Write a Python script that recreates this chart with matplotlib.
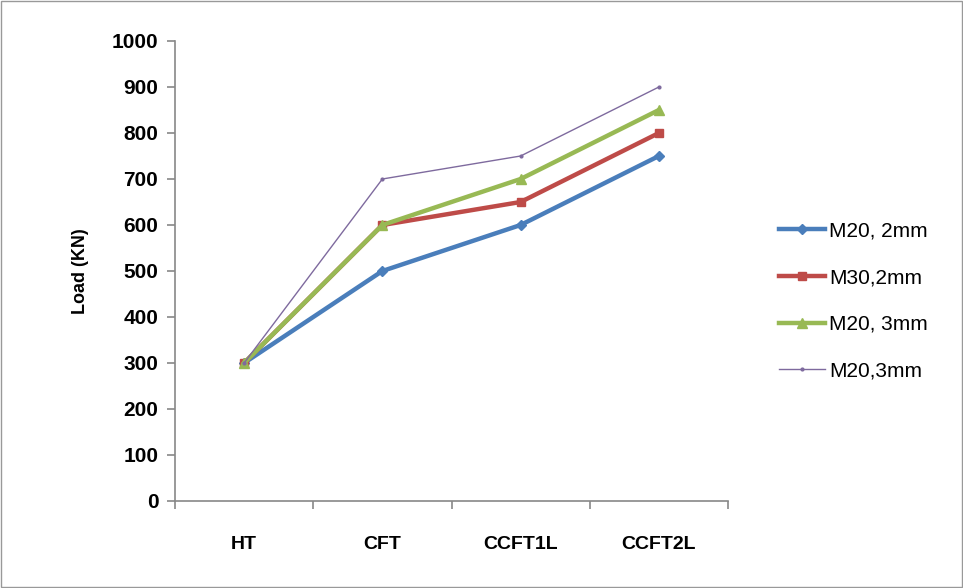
import numpy as np
import matplotlib.pyplot as plt

categories = ['HT', 'CFT', 'CCFT1L', 'CCFT2L']
m20_2mm = [300, 500, 600, 750]
m30_2mm = [300, 600, 650, 800]
m20_3mm = [300, 600, 700, 850]
m20_3mm_b = [300, 700, 750, 900]
labels = ['M20, 2mm', 'M30,2mm', 'M20, 3mm', 'M20,3mm']

plt.rcParams['font.family'] = ['Liberation Sans', 'DejaVu Sans']

fig = plt.figure(figsize=(9.63, 5.88), dpi=100)
ax = fig.add_axes([175 / 963, 1 - 501 / 588, (728 - 175) / 963, (501 - 41) / 588])

x = np.arange(len(categories))
ax.plot(x, m20_2mm, color='#4A7EBB', lw=3.2, marker='D', ms=5.5, label=labels[0])
ax.plot(x, m30_2mm, color='#BE4B48', lw=3.2, marker='s', ms=6, label=labels[1])
ax.plot(x, m20_3mm, color='#98B954', lw=3.2, marker='^', ms=7.5, label=labels[2])
ax.plot(x, m20_3mm_b, color='#7E6A9E', lw=1.0, marker='o', ms=2, label=labels[3])

ax.set_xlim(-0.5, len(categories) - 0.5)
ax.set_ylim(0, 1000)
ax.set_yticks(range(0, 1001, 100))
ax.set_xticks(x)
ax.set_xticklabels(categories, fontsize=14, fontweight='bold')
ax.set_xticks(np.arange(-0.5, len(categories), 1), minor=True)
ax.tick_params(axis='x', which='major', length=0, pad=25)
ax.tick_params(axis='x', which='minor', length=6, color='#888888', width=1.2, direction='out')
ax.tick_params(axis='y', length=6, color='#888888', width=1.2, direction='out', labelsize=15, pad=6)
for lab in ax.get_yticklabels():
    lab.set_fontweight('bold')
ax.set_ylabel('Load (KN)', fontsize=13, fontweight='bold', labelpad=16)

for side in ['top', 'right']:
    ax.spines[side].set_visible(False)
for side in ['left', 'bottom']:
    ax.spines[side].set_color('#888888')
    ax.spines[side].set_linewidth(1.2)

leg = fig.legend(loc='center left', bbox_to_anchor=(760 / 963, 1 - 301 / 588), frameon=False,
                 prop={'size': 15}, labelspacing=1.33, handlelength=2.2, handletextpad=0.2)

fig.patches.append(plt.Rectangle((0.001, 0.001), 0.998, 0.998, transform=fig.transFigure,
                                 fill=False, edgecolor='#999999', lw=1))

fig.savefig('out.png', dpi=100)
